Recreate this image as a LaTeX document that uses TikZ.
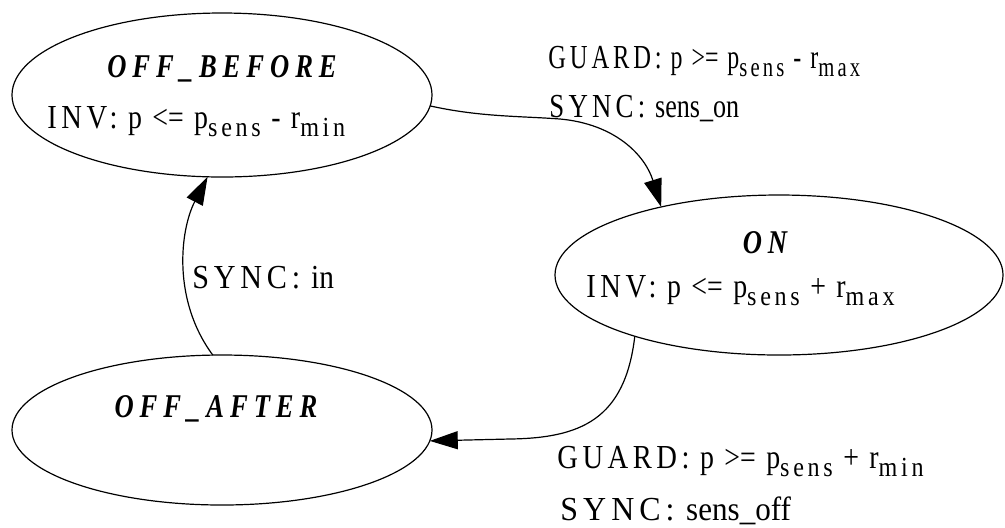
\documentclass[tikz,border=0pt]{standalone}
\usepackage{fontspec}
\usepackage{graphicx}
\setmainfont{Liberation Serif}[FakeStretch=0.74, WordSpace=1.5]
\newfontfamily\capsfont{Liberation Serif}[FakeStretch=0.76, LetterSpace=12, WordSpace=1.5]
\newfontfamily\idxfont{Liberation Serif}[FakeStretch=0.78, LetterSpace=12]
\newfontfamily\statefont{Liberation Serif}[FakeStretch=0.8, LetterSpace=18]
\usetikzlibrary{arrows.meta, shapes.geometric}
% spaced capitals for keywords
\newcommand\kw[1]{{\capsfont #1}}
% lowered, smaller text for the indices (p_sens, r_min, r_max)
\newcommand\lowtxt[1]{\raisebox{-4.3pt}{\fontsize{13.8pt}{14pt}\idxfont #1}}
% horizontal set width of a whole label
\newcommand\wide[2]{\scalebox{#1}[1]{#2}}

\tikzset{
  state/.style={draw, ellipse, line width=0.6pt, inner sep=0pt, outer sep=0pt},
  flow/.style={line width=0.6pt, -{Triangle[length=14pt, width=9pt]}},
  lbl/.style={inner sep=0pt, font=\fontsize{16.8pt}{20pt}\selectfont},
  title/.style={inner sep=0pt, font=\fontsize{16.6pt}{20pt}\statefont\bfseries\itshape},
}

\begin{document}
\begin{tikzpicture}[x=0.5pt, y=-0.5pt]
  \useasboundingbox (0,0) rectangle (1005,527);

  % states
  \node[state, minimum width=210pt, minimum height=82pt] (ob) at (222,95) {};
  \node[state, minimum width=224pt, minimum height=80pt] (on) at (779,275) {};
  \node[state, minimum width=210pt, minimum height=75pt] (oa) at (222,430) {};

  % state names and invariants
  \node[title, anchor=base] (obname) at (222,77) {OFF\_BEFORE};
  \node[lbl, anchor=base west] (obinv) at (47,128)
    {\wide{1.12}{\kw{INV:} p <= p\lowtxt{sens} - r\lowtxt{min}}};
  \node[title, anchor=base] (onname) at (765,253) {ON};
  \node[lbl, anchor=base west] (oninv) at (586,297)
    {\wide{1.12}{\kw{INV:} p <= p\lowtxt{sens} + r\lowtxt{max}}};
  \node[title, anchor=base] (oaname) at (216,417) {OFF\_AFTER};

  % transitions
  \draw[flow] (ob.-3) .. controls (480,117) and (520,116) .. (560,119)
              .. controls (615,124) and (645,155) .. (on.150);
  \draw[flow] (on.203) .. controls (625,420) and (580,438) .. (510,439) -- (oa.-3);
  \draw[flow] (oa.97) .. controls (172,300) and (180,230) .. (ob.-100);

  % transition labels
  \node[lbl, anchor=base west] (g1) at (548,68)
    {\wide{0.96}{\kw{GUARD:} p >= p\lowtxt{sens} - r\lowtxt{max}}};
  \node[lbl, anchor=base west] (s1) at (549,117) {\wide{1.05}{\kw{SYNC:} sens\_on}};
  \node[lbl, anchor=base west] (s3) at (192,288) {\wide{1.18}{\kw{SYNC:} in}};
  \node[lbl, anchor=base west] (g2) at (557,468)
    {\wide{1.12}{\kw{GUARD:} p >= p\lowtxt{sens} + r\lowtxt{min}}};
  \node[lbl, anchor=base west] (s2) at (560,520) {\wide{1.25}{\kw{SYNC:} sens\_off}};
\end{tikzpicture}
\end{document}
